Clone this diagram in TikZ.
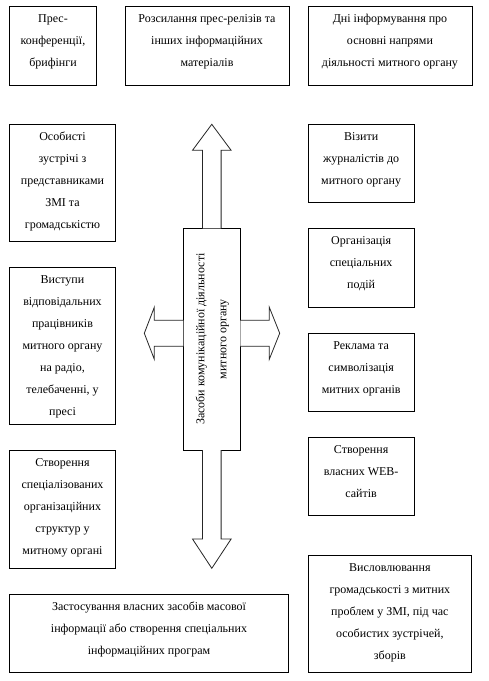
\documentclass[tikz,border=0pt]{standalone}
\usepackage{fontspec}
\setmainfont{Liberation Serif}
\usetikzlibrary{calc}
\begin{document}
\begin{tikzpicture}[x=1pt,y=1pt,
  box/.style={draw=black, line width=0.8pt, fill=white, inner sep=0pt, outer sep=0pt, anchor=north west},
  txt/.style={align=center, inner sep=0pt, anchor=north, font={\fontsize{12}{22}\selectfont}},
  barrow/.style={draw=black!85, line width=0.8pt, fill=white, line join=miter}]
\fill[white] (0,0) rectangle (489,-681);
\useasboundingbox (0,0) rectangle (489,-681);
% top row
\node[box, minimum width=87.4pt, minimum height=79pt] (b1) at (9.3,-6) {};
\node[txt] (b1t) at ([yshift=-6pt]b1.north) {\rule{0pt}{10pt}Прес-\\конференції,\\брифінги};
\node[box, minimum width=164pt, minimum height=79pt] (b2) at (125,-6) {};
\node[txt] (b2t) at ([yshift=-6pt]b2.north) {\rule{0pt}{10pt}Розсилання прес-релізів та\\інших інформаційних\\матеріалів};
\node[box, minimum width=164pt, minimum height=79pt] (b3) at (308,-6) {};
\node[txt] (b3t) at ([yshift=-6pt]b3.north) {\rule{0pt}{10pt}Дні інформування про\\основні напрями\\діяльності митного органу};
% left column
\node[box, minimum width=106.4pt, minimum height=117pt] (l1) at (9.3,-124.3) {};
\node[txt] (l1t) at ([yshift=-6pt]l1.north) {\rule{0pt}{10pt}Особисті\\зустрічі з\\представниками\\ЗМІ та\\громадськістю};
\node[box, minimum width=106.4pt, minimum height=157pt] (l2) at (9.3,-267.3) {};
\node[txt] (l2t) at ([yshift=-6pt]l2.north) {\rule{0pt}{10pt}Виступи\\відповідальних\\працівників\\митного органу\\на радіо,\\телебаченні, у\\пресі};
\node[box, minimum width=106.4pt, minimum height=118pt] (l3) at (9.3,-450.3) {};
\node[txt] (l3t) at ([yshift=-6pt]l3.north) {\rule{0pt}{10pt}Створення\\спеціалізованих\\організаційних\\структур у\\митному органі};
% right column
\node[box, minimum width=106.3pt, minimum height=78pt] (r1) at (308,-124.3) {};
\node[txt] (r1t) at ([yshift=-6pt]r1.north) {\rule{0pt}{10pt}Візити\\журналістів до\\митного органу};
\node[box, minimum width=106.3pt, minimum height=79pt] (r2) at (308,-228.3) {};
\node[txt] (r2t) at ([yshift=-6pt]r2.north) {\rule{0pt}{10pt}Організація\\спеціальних\\подій};
\node[box, minimum width=106.3pt, minimum height=78pt] (r3) at (308,-333.3) {};
\node[txt] (r3t) at ([yshift=-6pt]r3.north) {\rule{0pt}{10pt}Реклама та\\символізація\\митних органів};
\node[box, minimum width=106.3pt, minimum height=78pt] (r4) at (308,-437.3) {};
\node[txt] (r4t) at ([yshift=-6pt]r4.north) {\rule{0pt}{10pt}Створення\\власних WEB-\\сайтів};
% bottom
\node[box, minimum width=279.4pt, minimum height=78pt] (bl) at (9.3,-594.3) {};
\node[txt] (blt) at ([yshift=-6pt]bl.north) {\rule{0pt}{10pt}Застосування власних засобів масової\\інформації або створення спеціальних\\інформаційних програм};
\node[box, minimum width=163.7pt, minimum height=117pt] (br) at (308,-555.3) {};
\node[txt] (brt) at ([yshift=-6pt]br.north) {\rule{0pt}{10pt}Висловлювання\\громадськості з митних\\проблем у ЗМІ, під час\\особистих зустрічей,\\зборів};
% centre
\node[box, minimum width=57pt, minimum height=221.7pt] (c) at (183.3,-228.3) {};
\node[txt, anchor=center, rotate=90] (ct) at ([xshift=0.5pt]c.center) {Засоби комунікаційної діяльності\\митного органу};
% block arrows
\draw[barrow] ([xshift=-9.3pt]c.north) -- ++(0,78) -- ++(-10,0) -- ++(19.3,26) -- ++(19.3,-26) -- ++(-10,0) -- ++(0,-78);
\draw[barrow] ([xshift=-9.3pt]c.south) -- ++(0,-89) -- ++(-10,0) -- ++(19.3,-29.3) -- ++(19.3,29.3) -- ++(-10,0) -- ++(0,89);
\draw[barrow] ([yshift=18.9pt]c.west) -- ++(-29,0) -- ++(0,13) -- ++(-10,-26) -- ++(10,-26) -- ++(0,13) -- ++(29,0);
\draw[barrow] ([yshift=18.9pt]c.east) -- ++(29,0) -- ++(0,13) -- ++(10.4,-26) -- ++(-10.4,-26) -- ++(0,13) -- ++(-29,0);
\end{tikzpicture}
\end{document}
